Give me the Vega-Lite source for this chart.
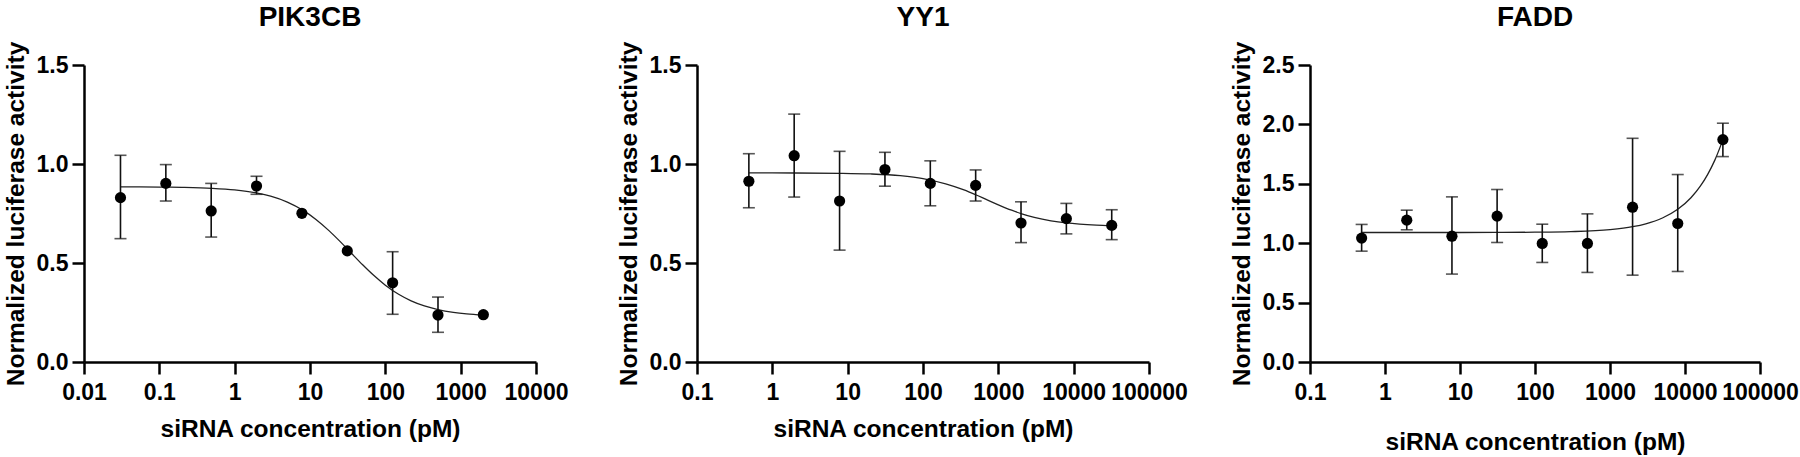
{
  "$schema": "https://vega.github.io/schema/vega-lite/v6.json",
  "background": "white",
  "padding": {"left": 3, "top": 4, "right": 5, "bottom": 5},
  "bounds": "flush",
  "spacing": 161,
  "datasets": {
    "pts": [
      {"gene": "PIK3CB", "conc": 0.0305, "mean": 0.83, "lo": 0.623, "hi": 1.044},
      {"gene": "PIK3CB", "conc": 0.122, "mean": 0.902, "lo": 0.813, "hi": 0.997},
      {"gene": "PIK3CB", "conc": 0.488, "mean": 0.763, "lo": 0.631, "hi": 0.902},
      {"gene": "PIK3CB", "conc": 1.95, "mean": 0.889, "lo": 0.847, "hi": 0.938},
      {"gene": "PIK3CB", "conc": 7.81, "mean": 0.751, "lo": null, "hi": null},
      {"gene": "PIK3CB", "conc": 31.25, "mean": 0.561, "lo": null, "hi": null},
      {"gene": "PIK3CB", "conc": 125, "mean": 0.40, "lo": 0.241, "hi": 0.557},
      {"gene": "PIK3CB", "conc": 500, "mean": 0.237, "lo": 0.15, "hi": 0.328},
      {"gene": "PIK3CB", "conc": 2000, "mean": 0.239, "lo": null, "hi": null},
      {"gene": "YY1", "conc": 0.488, "mean": 0.913, "lo": 0.779, "hi": 1.052},
      {"gene": "YY1", "conc": 1.95, "mean": 1.042, "lo": 0.833, "hi": 1.252},
      {"gene": "YY1", "conc": 7.81, "mean": 0.813, "lo": 0.565, "hi": 1.064},
      {"gene": "YY1", "conc": 31.25, "mean": 0.972, "lo": 0.888, "hi": 1.059},
      {"gene": "YY1", "conc": 125, "mean": 0.902, "lo": 0.789, "hi": 1.016},
      {"gene": "YY1", "conc": 500, "mean": 0.892, "lo": 0.813, "hi": 0.970},
      {"gene": "YY1", "conc": 2000, "mean": 0.702, "lo": 0.603, "hi": 0.809},
      {"gene": "YY1", "conc": 8000, "mean": 0.724, "lo": 0.647, "hi": 0.801},
      {"gene": "YY1", "conc": 32000, "mean": 0.690, "lo": 0.618, "hi": 0.769},
      {"gene": "FADD", "conc": 0.488, "mean": 1.043, "lo": 0.933, "hi": 1.158},
      {"gene": "FADD", "conc": 1.95, "mean": 1.194, "lo": 1.113, "hi": 1.278},
      {"gene": "FADD", "conc": 7.81, "mean": 1.059, "lo": 0.740, "hi": 1.390},
      {"gene": "FADD", "conc": 31.25, "mean": 1.228, "lo": 1.006, "hi": 1.452},
      {"gene": "FADD", "conc": 125, "mean": 0.998, "lo": 0.838, "hi": 1.160},
      {"gene": "FADD", "conc": 500, "mean": 0.998, "lo": 0.754, "hi": 1.247},
      {"gene": "FADD", "conc": 2000, "mean": 1.303, "lo": 0.731, "hi": 1.883},
      {"gene": "FADD", "conc": 8000, "mean": 1.166, "lo": 0.762, "hi": 1.578},
      {"gene": "FADD", "conc": 32000, "mean": 1.872, "lo": 1.729, "hi": 2.01}
    ],
    "fit": [
      {"gene": "PIK3CB", "conc": 0.0305, "y": 0.8846},
      {"gene": "PIK3CB", "conc": 0.05, "y": 0.8843},
      {"gene": "PIK3CB", "conc": 0.1, "y": 0.8836},
      {"gene": "PIK3CB", "conc": 0.2, "y": 0.8820},
      {"gene": "PIK3CB", "conc": 0.5, "y": 0.8773},
      {"gene": "PIK3CB", "conc": 1, "y": 0.8692},
      {"gene": "PIK3CB", "conc": 2, "y": 0.8531},
      {"gene": "PIK3CB", "conc": 3, "y": 0.8373},
      {"gene": "PIK3CB", "conc": 5, "y": 0.8076},
      {"gene": "PIK3CB", "conc": 8, "y": 0.7670},
      {"gene": "PIK3CB", "conc": 12, "y": 0.7201},
      {"gene": "PIK3CB", "conc": 18, "y": 0.6623},
      {"gene": "PIK3CB", "conc": 25, "y": 0.6091},
      {"gene": "PIK3CB", "conc": 35, "y": 0.5515},
      {"gene": "PIK3CB", "conc": 50, "y": 0.4909},
      {"gene": "PIK3CB", "conc": 70, "y": 0.4376},
      {"gene": "PIK3CB", "conc": 100, "y": 0.3881},
      {"gene": "PIK3CB", "conc": 150, "y": 0.3422},
      {"gene": "PIK3CB", "conc": 220, "y": 0.3091},
      {"gene": "PIK3CB", "conc": 330, "y": 0.2833},
      {"gene": "PIK3CB", "conc": 500, "y": 0.2649},
      {"gene": "PIK3CB", "conc": 800, "y": 0.2510},
      {"gene": "PIK3CB", "conc": 1200, "y": 0.2432},
      {"gene": "PIK3CB", "conc": 2000, "y": 0.2370},
      {"gene": "YY1", "conc": 0.488, "y": 0.9549},
      {"gene": "YY1", "conc": 2, "y": 0.9546},
      {"gene": "YY1", "conc": 8, "y": 0.9530},
      {"gene": "YY1", "conc": 20, "y": 0.9497},
      {"gene": "YY1", "conc": 50, "y": 0.9410},
      {"gene": "YY1", "conc": 100, "y": 0.9266},
      {"gene": "YY1", "conc": 200, "y": 0.8997},
      {"gene": "YY1", "conc": 350, "y": 0.8691},
      {"gene": "YY1", "conc": 500, "y": 0.8447},
      {"gene": "YY1", "conc": 700, "y": 0.8200},
      {"gene": "YY1", "conc": 1000, "y": 0.7939},
      {"gene": "YY1", "conc": 1500, "y": 0.7665},
      {"gene": "YY1", "conc": 2000, "y": 0.7497},
      {"gene": "YY1", "conc": 3000, "y": 0.7303},
      {"gene": "YY1", "conc": 5000, "y": 0.7128},
      {"gene": "YY1", "conc": 8000, "y": 0.7023},
      {"gene": "YY1", "conc": 12000, "y": 0.6964},
      {"gene": "YY1", "conc": 20000, "y": 0.6916},
      {"gene": "YY1", "conc": 32000, "y": 0.6890},
      {"gene": "FADD", "conc": 0.488, "y": 1.0900},
      {"gene": "FADD", "conc": 2, "y": 1.0900},
      {"gene": "FADD", "conc": 10, "y": 1.0902},
      {"gene": "FADD", "conc": 30, "y": 1.0907},
      {"gene": "FADD", "conc": 100, "y": 1.0924},
      {"gene": "FADD", "conc": 300, "y": 1.0973},
      {"gene": "FADD", "conc": 1000, "y": 1.1144},
      {"gene": "FADD", "conc": 2000, "y": 1.1388},
      {"gene": "FADD", "conc": 3000, "y": 1.1631},
      {"gene": "FADD", "conc": 5000, "y": 1.2119},
      {"gene": "FADD", "conc": 8000, "y": 1.2850},
      {"gene": "FADD", "conc": 12000, "y": 1.3825},
      {"gene": "FADD", "conc": 16000, "y": 1.4800},
      {"gene": "FADD", "conc": 20000, "y": 1.5775},
      {"gene": "FADD", "conc": 25000, "y": 1.6994},
      {"gene": "FADD", "conc": 32000, "y": 1.8700}
    ]
  },
  "config": {
    "view": {"stroke": null},
    "font": "Liberation Sans",
    "axis": {
      "grid": false,
      "domainColor": "#000",
      "domainWidth": 2.5,
      "tickColor": "#000",
      "tickWidth": 2.5,
      "tickSize": 12,
      "labelFont": "Liberation Sans",
      "labelFontSize": 23,
      "labelFontWeight": "bold",
      "labelColor": "#000",
      "labelFlush": false,
      "labelOverlap": false,
      "titleFont": "Liberation Sans",
      "titleFontSize": 24.5,
      "titleFontWeight": "bold",
      "titleColor": "#000"
    },
    "title": {"font": "Liberation Sans", "fontSize": 28, "fontWeight": "bold", "color": "#000", "frame": "group", "anchor": "middle"}
  },
  "hconcat": [
    {
      "width": 452, "height": 297,
      "title": {"text": "PIK3CB", "offset": 9},
      "layer": [
        {
          "data": {"name": "fit"},
          "transform": [{"filter": "datum.gene === 'PIK3CB'"}],
          "mark": {"type": "line", "color": "#222", "strokeWidth": 1.3, "interpolate": "monotone"},
          "encoding": {
            "x": {"field": "conc", "type": "quantitative", "title": "siRNA concentration (pM)", "scale": {"type": "log", "domain": [0.01, 10000], "nice": false},
                  "axis": {"values": [0.01, 0.1, 1, 10, 100, 1000, 10000], "format": "~g", "labelPadding": 7, "titlePadding": 13}},
            "y": {"field": "y", "type": "quantitative", "title": "Normalized luciferase activity", "scale": {"domain": [0, 1.5], "nice": false},
                  "axis": {"values": [0, 0.5, 1, 1.5], "format": ".1f", "labelPadding": 4, "titlePadding": 8}}
          }
        },
        {
          "data": {"name": "pts"},
          "transform": [{"filter": "datum.gene === 'PIK3CB' && datum.lo != null"}],
          "mark": {"type": "errorbar", "ticks": true, "size": 12, "thickness": 1.6, "color": "#111"},
          "encoding": {
            "x": {"field": "conc", "type": "quantitative", "title": "siRNA concentration (pM)"},
            "y": {"field": "lo", "type": "quantitative", "title": "Normalized luciferase activity"},
            "y2": {"field": "hi"}
          }
        },
        {
          "data": {"name": "pts"},
          "transform": [{"filter": "datum.gene === 'PIK3CB'"}],
          "mark": {"type": "point", "filled": true, "shape": "circle", "size": 125, "color": "#000", "opacity": 1},
          "encoding": {
            "x": {"field": "conc", "type": "quantitative", "title": "siRNA concentration (pM)"},
            "y": {"field": "mean", "type": "quantitative", "title": "Normalized luciferase activity"}
          }
        }
      ]
    },
    {
      "width": 452, "height": 297,
      "title": {"text": "YY1", "offset": 9},
      "layer": [
        {
          "data": {"name": "fit"},
          "transform": [{"filter": "datum.gene === 'YY1'"}],
          "mark": {"type": "line", "color": "#222", "strokeWidth": 1.3, "interpolate": "monotone"},
          "encoding": {
            "x": {"field": "conc", "type": "quantitative", "title": "siRNA concentration (pM)", "scale": {"type": "log", "domain": [0.1, 100000], "nice": false},
                  "axis": {"values": [0.1, 1, 10, 100, 1000, 10000, 100000], "format": "~g", "labelPadding": 7, "titlePadding": 13}},
            "y": {"field": "y", "type": "quantitative", "title": "Normalized luciferase activity", "scale": {"domain": [0, 1.5], "nice": false},
                  "axis": {"values": [0, 0.5, 1, 1.5], "format": ".1f", "labelPadding": 4, "titlePadding": 8}}
          }
        },
        {
          "data": {"name": "pts"},
          "transform": [{"filter": "datum.gene === 'YY1' && datum.lo != null"}],
          "mark": {"type": "errorbar", "ticks": true, "size": 12, "thickness": 1.6, "color": "#111"},
          "encoding": {
            "x": {"field": "conc", "type": "quantitative", "title": "siRNA concentration (pM)"},
            "y": {"field": "lo", "type": "quantitative", "title": "Normalized luciferase activity"},
            "y2": {"field": "hi"}
          }
        },
        {
          "data": {"name": "pts"},
          "transform": [{"filter": "datum.gene === 'YY1'"}],
          "mark": {"type": "point", "filled": true, "shape": "circle", "size": 125, "color": "#000", "opacity": 1},
          "encoding": {
            "x": {"field": "conc", "type": "quantitative", "title": "siRNA concentration (pM)"},
            "y": {"field": "mean", "type": "quantitative", "title": "Normalized luciferase activity"}
          }
        }
      ]
    },
    {
      "width": 450, "height": 297,
      "title": {"text": "FADD", "offset": 9},
      "layer": [
        {
          "data": {"name": "fit"},
          "transform": [{"filter": "datum.gene === 'FADD'"}],
          "mark": {"type": "line", "color": "#222", "strokeWidth": 1.3, "interpolate": "monotone"},
          "encoding": {
            "x": {"field": "conc", "type": "quantitative", "title": "siRNA concentration (pM)", "scale": {"type": "log", "domain": [0.1, 100000], "nice": false},
                  "axis": {"values": [0.1, 1, 10, 100, 1000, 10000, 100000], "format": "~g", "labelPadding": 7, "titlePadding": 26}},
            "y": {"field": "y", "type": "quantitative", "title": "Normalized luciferase activity", "scale": {"domain": [0, 2.5], "nice": false},
                  "axis": {"values": [0, 0.5, 1, 1.5, 2, 2.5], "format": ".1f", "labelPadding": 4, "titlePadding": 8}}
          }
        },
        {
          "data": {"name": "pts"},
          "transform": [{"filter": "datum.gene === 'FADD' && datum.lo != null"}],
          "mark": {"type": "errorbar", "ticks": true, "size": 12, "thickness": 1.6, "color": "#111"},
          "encoding": {
            "x": {"field": "conc", "type": "quantitative", "title": "siRNA concentration (pM)"},
            "y": {"field": "lo", "type": "quantitative", "title": "Normalized luciferase activity"},
            "y2": {"field": "hi"}
          }
        },
        {
          "data": {"name": "pts"},
          "transform": [{"filter": "datum.gene === 'FADD'"}],
          "mark": {"type": "point", "filled": true, "shape": "circle", "size": 125, "color": "#000", "opacity": 1},
          "encoding": {
            "x": {"field": "conc", "type": "quantitative", "title": "siRNA concentration (pM)"},
            "y": {"field": "mean", "type": "quantitative", "title": "Normalized luciferase activity"}
          }
        }
      ]
    }
  ]
}
